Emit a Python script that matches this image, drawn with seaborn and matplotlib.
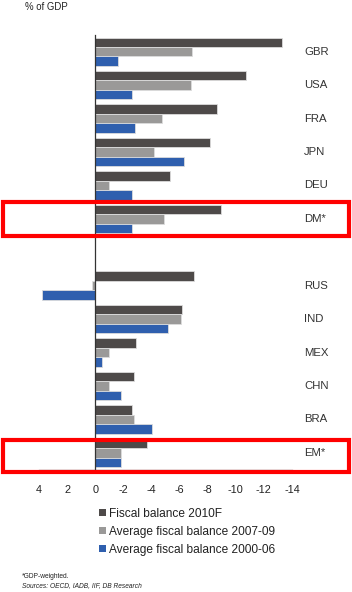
import numpy as np
import pandas as pd
import matplotlib
matplotlib.use("Agg")
import matplotlib.pyplot as plt
import seaborn as sns
from matplotlib.patches import Rectangle, Patch
from matplotlib.transforms import blended_transform_factory

# ---- data ----
categories = ["GBR", "USA", "FRA", "JPN", "DEU", "DM*", " ",
              "RUS", "IND", "MEX", "CHN", "BRA", "EM*"]
series = ["Fiscal balance 2010F",
          "Average fiscal balance 2007-09",
          "Average fiscal balance 2000-06"]
fb_2010 = [-13.3, -10.7, -8.65, -8.15, -5.35, -8.95, np.nan,
           -7.0, -6.15, -2.9, -2.75, -2.6, -3.7]
avg_2007_09 = [-6.9, -6.8, -4.75, -4.2, -1.0, -4.9, np.nan,
               0.2, -6.1, -0.95, -0.95, -2.75, -1.8]
avg_2000_06 = [-1.6, -2.6, -2.8, -6.3, -2.6, -2.6, np.nan,
               3.8, -5.2, -0.5, -1.8, -4.05, -1.8]
xticks = [4, 2, 0, -2, -4, -6, -8, -10, -12, -14]
xtick_labels = ["4", "2", "0", "-2", "-4", "-6", "-8", "-10", "-12", "-14"]
highlight = ["DM*", "EM*"]
unit_label = "% of GDP"
footnote1 = "*GDP-weighted."
footnote2 = "Sources: OECD, IADB, IIF, DB Research"

colors = ["#4e4a49", "#9a9998", "#2f5fae"]

df = pd.DataFrame({"country": categories,
                   series[0]: fb_2010,
                   series[1]: avg_2007_09,
                   series[2]: avg_2000_06})
long = df.melt(id_vars="country", var_name="series", value_name="value")

sns.set_style("white")
plt.rcParams["font.family"] = ["Liberation Sans", "DejaVu Sans"]

fig = plt.figure(figsize=(3.52, 5.92), dpi=100)
W, H = 352, 592
ax = fig.add_axes([39 / W, 1 - 469.5 / H, 253 / W, 434.5 / H])

sns.barplot(data=long, y="country", x="value", hue="series",
            order=categories, hue_order=series, palette=colors,
            orient="h", width=0.85, errorbar=None, saturation=1,
            edgecolor="#dcdcdc", linewidth=0.6, legend=False, ax=ax)

ax.set_xlim(4, -14)
ax.set_ylim(len(categories) - 0.5, -0.5)
ax.set_xticks(xticks)
ax.set_xticklabels(xtick_labels, fontsize=7.8, color="#222222")
ax.set_yticks(np.arange(-0.5, len(categories), 1.0))
ax.set_yticklabels([])
ax.set_xlabel("")
ax.set_ylabel("")

for s in ["top", "right"]:
    ax.spines[s].set_visible(False)
ax.spines["left"].set_position(("data", 0))
for s in ["left", "bottom"]:
    ax.spines[s].set_color("#333333")
    ax.spines[s].set_linewidth(0.9)
ax.tick_params(axis="y", direction="in", length=3, width=0.8, color="#555555")
ax.tick_params(axis="x", direction="in", length=3, width=0.8, color="#333333", pad=11)

trans = blended_transform_factory(ax.transAxes, ax.transData)
for i, c in enumerate(categories):
    if c.strip():
        ax.text(1.047, i, c, transform=trans, ha="left", va="center",
                fontsize=8.2, color="#333333")

# highlight boxes
btrans = blended_transform_factory(fig.transFigure, ax.transData)
for c in highlight:
    i = categories.index(c)
    top = i - 0.5 if i < len(categories) - 1 else i - 0.39
    bot = i + 0.5 if i < len(categories) - 1 else i + 0.56
    ax.add_patch(Rectangle((2.8 / W, top), (348.5 - 2.8) / W, bot - top,
                           transform=btrans, fill=False, edgecolor="#ff0000",
                           linewidth=3.0, clip_on=False, zorder=6))

fig.text(25 / W, 1 - 7 / H, unit_label, fontsize=6.9, color="#222222",
         ha="left", va="center")

handles = [Patch(facecolor=col, edgecolor="none") for col in colors]
fig.legend(handles=handles, labels=series, loc="upper left",
           bbox_to_anchor=(99 / W, 1 - 508 / H), frameon=False, fontsize=8.6,
           handlelength=0.55, handleheight=0.55, handletextpad=0.3,
           labelspacing=0.5, borderpad=0, borderaxespad=0,
           labelcolor="#222222")

fig.text(22 / W, 1 - 577 / H, footnote1, fontsize=4.8, color="#222222",
         ha="left", va="center")
fig.text(22 / W, 1 - 586 / H, footnote2, fontsize=4.8, color="#222222",
         ha="left", va="center", style="italic")

fig.savefig("out.png", dpi=100)
